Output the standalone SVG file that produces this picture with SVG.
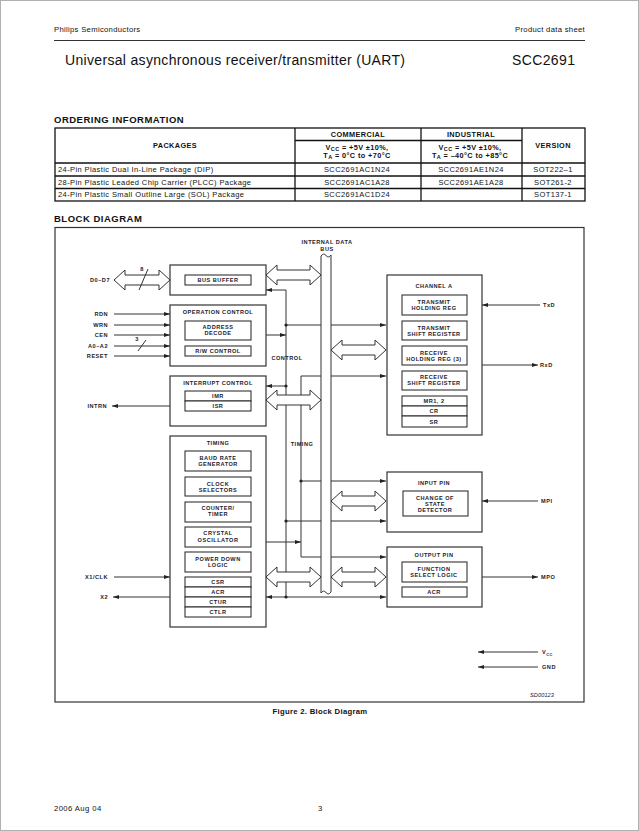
<svg xmlns="http://www.w3.org/2000/svg" width="639" height="831" viewBox="0 0 639 831">
<defs>
<marker id="ah" viewBox="0 0 6 4" refX="6" refY="2" markerWidth="6" markerHeight="4" markerUnits="userSpaceOnUse" orient="auto"><path d="M0,0 L6,2 L0,4 z" fill="#222"/></marker>
<style>
.pg{font-family:"Liberation Sans",Arial,sans-serif;fill:#111}
.h{font-family:"Liberation Sans",Arial,sans-serif;font-weight:bold;font-size:9.5px;letter-spacing:0.5px;fill:#111}
.th{font-family:"Liberation Sans",Arial,sans-serif;font-weight:bold;font-size:7.3px;letter-spacing:0.4px;fill:#111;text-anchor:middle}
.td{font-family:"Liberation Sans",Arial,sans-serif;font-size:7.5px;letter-spacing:0.4px;fill:#111}
.tc{text-anchor:middle}
.tl{stroke:#111;stroke-width:1.3;fill:none}
.t{font-family:"Liberation Sans",Arial,sans-serif;font-weight:bold;font-size:5.6px;letter-spacing:0.5px;fill:#1b1b2f;text-anchor:middle}
.e{text-anchor:end}
.s{text-anchor:start}
.it{font-style:italic;font-weight:normal;letter-spacing:0.1px}
.bx{fill:#fff;stroke:#333;stroke-width:1.2}
.ib{fill:#fff;stroke:#333;stroke-width:1.1}
.ln{stroke:#333;stroke-width:1;fill:none}
.ar{marker-end:url(#ah)}
.da{fill:#fff;stroke:#333;stroke-width:1}
.dot{fill:#222}
</style>
</defs>
<rect x="0.5" y="0.5" width="638" height="830" fill="#fff" stroke="#b0b0b0"/>

<!-- page header -->
<g id="header">
<text class="pg" x="54" y="32" font-size="7.7" letter-spacing="0.3">Philips Semiconductors</text>
<text class="pg" x="585" y="32" font-size="7.7" letter-spacing="0.3" text-anchor="end">Product data sheet</text>
<line x1="54" y1="40.5" x2="585" y2="40.5" stroke="#333" stroke-width="1.2"/>
<text class="pg" x="65" y="65" font-size="14" textLength="340" lengthAdjust="spacing">Universal asynchronous receiver/transmitter (UART)</text>
<text class="pg" x="512" y="65" font-size="14" textLength="63" lengthAdjust="spacing">SCC2691</text>
</g>

<!-- ordering information table -->
<g id="ordering-table">
<text class="h" x="54" y="123">ORDERING INFORMATION</text>
<rect class="tl" x="55" y="128" width="530" height="73"/>
<line class="tl" x1="295" y1="128" x2="295" y2="201"/>
<line class="tl" x1="421" y1="128" x2="421" y2="201"/>
<line class="tl" x1="522" y1="128" x2="522" y2="201"/>
<line class="tl" x1="295" y1="140.5" x2="522" y2="140.5"/>
<line class="tl" x1="55" y1="163" x2="585" y2="163"/>
<line class="tl" x1="55" y1="176" x2="585" y2="176"/>
<line class="tl" x1="55" y1="188.5" x2="585" y2="188.5"/>
<text class="th" x="175" y="148">PACKAGES</text>
<text class="th" x="358" y="137">COMMERCIAL</text>
<text class="th" x="471" y="137">INDUSTRIAL</text>
<text class="th" x="553" y="148">VERSION</text>
<text class="th" x="357" y="150">V<tspan font-size="5.5" dy="1">CC</tspan><tspan dy="-1"> = +5V ±10%,</tspan></text>
<text class="th" x="357" y="158">T<tspan font-size="5.5" dy="1">A</tspan><tspan dy="-1"> = 0°C to +70°C</tspan></text>
<text class="th" x="470" y="150">V<tspan font-size="5.5" dy="1">CC</tspan><tspan dy="-1"> = +5V ±10%,</tspan></text>
<text class="th" x="470" y="158">T<tspan font-size="5.5" dy="1">A</tspan><tspan dy="-1"> = –40°C to +85°C</tspan></text>
<text class="td" x="58" y="172">24-Pin Plastic Dual In-Line Package (DIP)</text>
<text class="td" x="58" y="184.7">28-Pin Plastic Leaded Chip Carrier (PLCC) Package</text>
<text class="td" x="58" y="197.2">24-Pin Plastic Small Outline Large (SOL) Package</text>
<text class="td tc" x="357" y="172">SCC2691AC1N24</text>
<text class="td tc" x="357" y="184.7">SCC2691AC1A28</text>
<text class="td tc" x="357" y="197.2">SCC2691AC1D24</text>
<text class="td tc" x="471" y="172">SCC2691AE1N24</text>
<text class="td tc" x="471" y="184.7">SCC2691AE1A28</text>
<text class="td tc" x="553" y="172">SOT222–1</text>
<text class="td tc" x="553" y="184.7">SOT261-2</text>
<text class="td tc" x="553" y="197.2">SOT137-1</text>
</g>

<text class="h" x="54" y="222">BLOCK DIAGRAM</text>
<rect id="frame" x="55" y="227.5" width="529" height="474.5" fill="none" stroke="#333" stroke-width="1.2"/>

<!-- connectors -->
<g id="connectors">
<path class="ln ar" d="M114,314 H170"/>
<path class="ln ar" d="M114,325 H170"/>
<path class="ln ar" d="M114,335 H170"/>
<path class="ln ar" d="M114,346 H170"/>
<path class="ln ar" d="M114,356 H170"/>
<line class="ln" x1="138" y1="351" x2="146" y2="340"/>
<text class="t" x="137" y="341">3</text>
<path class="ln ar" d="M170,406 H112"/>
<path class="ln ar" d="M114,577 H170"/>
<path class="ln ar" d="M170,597 H113"/>
<path class="ln" d="M286,290 V597"/>
<path class="ln ar" d="M286,290 H266"/>
<path class="ln ar" d="M266,335 H286"/>
<path class="ln ar" d="M286,325 H386"/>
<path class="ln ar" d="M286,386 H266"/>
<path class="ln" d="M301,376 V557"/>
<path class="ln ar" d="M301,376 H386"/>
<path class="ln ar" d="M301,557 H386"/>
<path class="ln ar" d="M301,481 H386"/>
<path class="ln ar" d="M286,521 H386"/>
<path class="ln ar" d="M266,542 H301"/>
<path class="ln ar" d="M286,597 H386"/>
<path class="ln ar" d="M286,597 H266"/>
<path class="ln ar" d="M540,305 H482"/>
<path class="ln ar" d="M482,365 H538"/>
<path class="ln ar" d="M538,501 H482"/>
<path class="ln ar" d="M482,577 H538"/>
<path class="ln ar" d="M538,652 H478"/>
<path class="ln ar" d="M538,667 H478"/>
<circle class="dot" cx="286" cy="325" r="1.6"/>
<circle class="dot" cx="286" cy="386" r="1.6"/>
<circle class="dot" cx="286" cy="521" r="1.6"/>
<circle class="dot" cx="286" cy="597" r="1.6"/>
<circle class="dot" cx="301" cy="481" r="1.6"/>
<polygon class="da" points="114,280 125,270 125,275 159,275 159,270 170,280 159,290 159,285 125,285 125,290"/>
<line class="ln" x1="139" y1="290" x2="148" y2="269"/>
<text class="t" x="142" y="271">8</text>
<polygon class="da" points="266,275 277,265 277,270 310,270 310,265 321,275 310,285 310,280 277,280 277,285"/>
<polygon class="da" points="266,400 277,390 277,395 310,395 310,390 321,400 310,410 310,405 277,405 277,410"/>
<polygon class="da" points="266,577 277,567 277,572 310,572 310,567 321,577 310,587 310,582 277,582 277,587"/>
<polygon class="da" points="331,350 342,340 342,345 375,345 375,340 386,350 375,360 375,355 342,355 342,360"/>
<polygon class="da" points="331,501 342,491 342,496 375,496 375,491 386,501 375,511 375,506 342,506 342,511"/>
<polygon class="da" points="331,577 342,567 342,572 375,572 375,567 386,577 375,587 375,582 342,582 342,587"/>
<text class="t" x="287" y="360">CONTROL</text>
<text class="t" x="302" y="446">TIMING</text>
</g>

<!-- internal data bus -->
<g id="internal-bus">
<path d="M321,593 V256 Q323.5,252.5 326,255.5 T331,255 V592 Q328.5,595.5 326,592.5 T321,593 Z" fill="#fff" stroke="#333" stroke-width="1"/>
<text class="t" x="327" y="244">INTERNAL DATA</text>
<text class="t" x="327" y="251">BUS</text>
</g>

<!-- pin labels -->
<g id="pins">
<text class="t e" x="110" y="282">D0–D7</text>
<text class="t e" x="108" y="316">RDN</text>
<text class="t e" x="108" y="327">WRN</text>
<text class="t e" x="108" y="337">CEN</text>
<text class="t e" x="108" y="348">A0–A2</text>
<text class="t e" x="108" y="358">RESET</text>
<text class="t e" x="107" y="408">INTRN</text>
<text class="t e" x="108" y="579">X1/CLK</text>
<text class="t e" x="108" y="599">X2</text>
<text class="t s" x="543" y="307">TxD</text>
<text class="t s" x="540" y="367">RxD</text>
<text class="t s" x="541" y="503">MPI</text>
<text class="t s" x="541" y="579">MPO</text>
<text class="t s" x="542" y="654">V<tspan font-size="4" dy="1.5">CC</tspan></text>
<text class="t s" x="542" y="669">GND</text>
<text class="t s it" x="530" y="697">SD00123</text>
</g>

<g id="bus-buffer">
<rect class="bx" x="170" y="265" width="96" height="30"/>
<rect class="ib" x="185" y="275" width="66" height="10"/>
<text class="t" x="218" y="282">BUS BUFFER</text>
</g>

<g id="operation-control">
<rect class="bx" x="170" y="305" width="96" height="61"/>
<text class="t" x="218" y="314">OPERATION CONTROL</text>
<rect class="ib" x="185" y="321" width="66" height="19"/>
<text class="t" x="218" y="329">ADDRESS</text>
<text class="t" x="218" y="335">DECODE</text>
<rect class="ib" x="185" y="346" width="66" height="10"/>
<text class="t" x="218" y="353">R/W CONTROL</text>
</g>

<g id="interrupt-control">
<rect class="bx" x="170" y="376" width="96" height="50"/>
<text class="t" x="218" y="385">INTERRUPT CONTROL</text>
<rect class="ib" x="185" y="391" width="66" height="10"/>
<rect class="ib" x="185" y="401" width="66" height="10"/>
<text class="t" x="218" y="398">IMR</text>
<text class="t" x="218" y="408">ISR</text>
</g>

<g id="timing">
<rect class="bx" x="170" y="436" width="96" height="191"/>
<text class="t" x="218" y="445">TIMING</text>
<rect class="ib" x="185" y="451" width="66" height="20"/>
<text class="t" x="218" y="460">BAUD RATE</text>
<text class="t" x="218" y="466">GENERATOR</text>
<rect class="ib" x="185" y="477" width="66" height="19"/>
<text class="t" x="218" y="486">CLOCK</text>
<text class="t" x="218" y="492">SELECTORS</text>
<rect class="ib" x="185" y="502" width="66" height="20"/>
<text class="t" x="218" y="510">COUNTER/</text>
<text class="t" x="218" y="516">TIMER</text>
<rect class="ib" x="185" y="527" width="66" height="20"/>
<text class="t" x="218" y="535">CRYSTAL</text>
<text class="t" x="218" y="542">OSCILLATOR</text>
<rect class="ib" x="185" y="552" width="66" height="20"/>
<text class="t" x="218" y="561">POWER DOWN</text>
<text class="t" x="218" y="567">LOGIC</text>
<rect class="ib" x="185" y="577" width="66" height="10"/>
<rect class="ib" x="185" y="587" width="66" height="10"/>
<rect class="ib" x="185" y="597" width="66" height="10"/>
<rect class="ib" x="185" y="607" width="66" height="10"/>
<text class="t" x="218" y="584">CSR</text>
<text class="t" x="218" y="594">ACR</text>
<text class="t" x="218" y="604">CTUR</text>
<text class="t" x="218" y="614">CTLR</text>
</g>

<g id="channel-a">
<rect class="bx" x="387" y="275" width="95" height="160"/>
<text class="t" x="434" y="288">CHANNEL A</text>
<rect class="ib" x="402" y="295" width="65" height="20"/>
<text class="t" x="434" y="304">TRANSMIT</text>
<text class="t" x="434" y="310">HOLDING REG</text>
<rect class="ib" x="402" y="321" width="65" height="19"/>
<text class="t" x="434" y="330">TRANSMIT</text>
<text class="t" x="434" y="336">SHIFT REGISTER</text>
<rect class="ib" x="402" y="346" width="65" height="19"/>
<text class="t" x="434" y="355">RECEIVE</text>
<text class="t" x="434" y="361">HOLDING REG (3)</text>
<rect class="ib" x="402" y="371" width="65" height="19"/>
<text class="t" x="434" y="379">RECEIVE</text>
<text class="t" x="434" y="385">SHIFT REGISTER</text>
<rect class="ib" x="402" y="396" width="65" height="10"/>
<rect class="ib" x="402" y="406" width="65" height="10"/>
<rect class="ib" x="402" y="416" width="65" height="11"/>
<text class="t" x="434" y="403">MR1, 2</text>
<text class="t" x="434" y="413">CR</text>
<text class="t" x="434" y="423.5">SR</text>
</g>

<g id="input-pin">
<rect class="bx" x="387" y="472" width="95" height="60"/>
<text class="t" x="434" y="485">INPUT PIN</text>
<rect class="ib" x="403" y="491" width="65" height="25"/>
<text class="t" x="435" y="500">CHANGE OF</text>
<text class="t" x="435" y="506">STATE</text>
<text class="t" x="435" y="512">DETECTOR</text>
</g>

<g id="output-pin">
<rect class="bx" x="387" y="547" width="95" height="60"/>
<text class="t" x="434" y="557">OUTPUT PIN</text>
<rect class="ib" x="402" y="562" width="65" height="20"/>
<text class="t" x="434" y="571">FUNCTION</text>
<text class="t" x="434" y="577">SELECT LOGIC</text>
<rect class="ib" x="402" y="587" width="65" height="10"/>
<text class="t" x="434" y="594">ACR</text>
</g>

<g id="footer">
<text class="pg" x="320" y="714" font-size="7.7" font-weight="bold" letter-spacing="0.3" text-anchor="middle">Figure 2.  Block Diagram</text>
<text class="pg" x="54" y="811" font-size="7.7" letter-spacing="0.4">2006 Aug 04</text>
<text class="pg" x="318" y="811" font-size="7.7">3</text>
</g>
</svg>
